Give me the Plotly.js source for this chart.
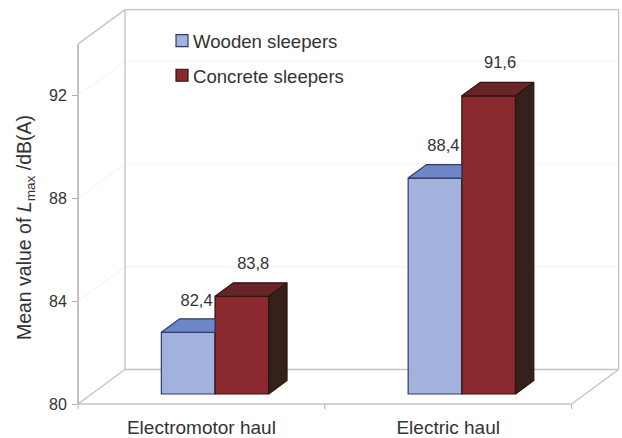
<!DOCTYPE html>
<html>
<head>
<meta charset="utf-8">
<script src="https://cdn.plot.ly/plotly-3.0.1.min.js"></script>
<style>
html,body{margin:0;padding:0;background:#fff}
#chart{width:622px;height:438px}
.legendsymbols{transform:translateX(9px)}
.g-ytitle{transform:translateY(20px)}
</style>
</head>
<body>
<div id="chart"></div>
<script>
// ---- data ----
const categories = ['Electromotor haul', 'Electric haul'];
const woodenValues = [82.4, 88.4];
const concreteValues = [83.8, 91.6];
const woodenLabels = ['82,4', '88,4'];
const concreteLabels = ['83,8', '91,6'];
const yTicks = [80, 84, 88, 92];

// ---- projection of the fake 3D box ----
const Y_BASE = 80, Y_TOP = 94;
const X_MAX = 2.188, Y_MAX = 95.29;
const DX = 0.1904, DY = 1.342;     // full depth of box in axis units
const D0 = 0.29, D1 = 0.68;        // bar front / back depth
const BW = 0.2175;                 // bar width
const centers = categories.map((_, i) => i + 0.5);
const sx = (x, d) => x + d * DX;
const sy = (v, d) => v + d * DY;
const px = x => x / X_MAX;
const py = y => (y - Y_BASE) / (Y_MAX - Y_BASE);

const COL = {
  wood: '#a3b2dc', woodTop: '#6f86c6', woodLine: '#2e3b68',
  conc: '#8b2a2e', concTop: '#6a2326', concSide: '#35211c', concLine: '#2a1414'
};

function poly(xs, ys, fill, line) {
  return {type: 'scatter', mode: 'lines', x: xs.concat(xs[0]), y: ys.concat(ys[0]),
    fill: 'toself', fillcolor: fill, line: {color: line, width: 1.2},
    showlegend: false, hoverinfo: 'skip', cliponaxis: false};
}

const traces = [
  {type: 'bar', name: 'Wooden sleepers', legendgroup: 'a',
   x: centers.map(c => sx(c, D0)), y: woodenValues.map(v => v - Y_BASE),
   base: woodenValues.map(() => sy(Y_BASE, D0)), width: BW, offset: -BW,
   marker: {color: COL.wood, line: {color: COL.woodLine, width: 1.2}}, hoverinfo: 'skip'},
  {type: 'bar', name: 'Concrete sleepers', legendgroup: 'b',
   x: centers.map(c => sx(c, D0)), y: concreteValues.map(v => v - Y_BASE),
   base: concreteValues.map(() => sy(Y_BASE, D0)), width: BW, offset: 0,
   marker: {color: COL.conc, line: {color: COL.concLine, width: 1.2}}, hoverinfo: 'skip'}
];

centers.forEach((c, i) => {
  // wooden top face: the part behind the concrete bar is hidden
  const w = woodenValues[i], k = concreteValues[i];
  const xl = c - BW, xr = c + BW;
  traces.push(poly(
    [sx(xl, D0), sx(xl, D1), sx(c, D0), sx(c, D0)],
    [sy(w, D0), sy(w, D1), sy(w, D1), sy(w, D0)], COL.woodTop, COL.woodLine));
  // concrete top and side faces
  traces.push(poly(
    [sx(c, D0), sx(c, D1), sx(xr, D1), sx(xr, D0)],
    [sy(k, D0), sy(k, D1), sy(k, D1), sy(k, D0)], COL.concTop, COL.concLine));
  traces.push(poly(
    [sx(xr, D0), sx(xr, D1), sx(xr, D1), sx(xr, D0)],
    [sy(k, D0), sy(k, D1), sy(Y_BASE, D1), sy(Y_BASE, D0)], COL.concSide, COL.concLine));
});

// value labels
const labelFont = {family: 'Liberation Sans, Arial, sans-serif', size: 16.5, color: '#333'};
traces.push({type: 'scatter', mode: 'text', showlegend: false, hoverinfo: 'skip', cliponaxis: false,
  x: centers.map(c => sx(c - BW / 2, D0) + 0.034), y: woodenValues.map(v => sy(v, D0) + 1.2),
  text: woodenLabels, textposition: 'middle center', textfont: labelFont});
traces.push({type: 'scatter', mode: 'text', showlegend: false, hoverinfo: 'skip', cliponaxis: false,
  x: centers.map(c => sx(c + BW / 2, D0) + 0.046), y: concreteValues.map(v => sy(v, D0) + 1.24),
  text: concreteLabels, textposition: 'middle center', textfont: labelFont});

// ---- box walls ----
const WALL = '#c4c4c4', GRID = '#f2f2f2';
const seg = (x0, y0, x1, y1, color, width) => ({type: 'line', xref: 'paper', yref: 'paper', layer: 'below',
  x0: px(x0), y0: py(y0), x1: px(x1), y1: py(y1), line: {color, width}});
const shapes = [];
yTicks.filter(t => t > Y_BASE).forEach(t => {
  shapes.push(seg(0, t, DX, sy(t, 1), GRID, 1));
  shapes.push(seg(DX, sy(t, 1), sx(2, 1), sy(t, 1), GRID, 1));
});
shapes.push(seg(DX, sy(Y_BASE, 1), DX, sy(Y_TOP, 1), WALL, 1.4));
shapes.push(seg(DX, sy(Y_TOP, 1), sx(2, 1), sy(Y_TOP, 1), WALL, 1.4));
shapes.push(seg(sx(2, 1), sy(Y_TOP, 1), sx(2, 1), sy(Y_BASE, 1), WALL, 1.4));
shapes.push(seg(DX, sy(Y_BASE, 1), sx(2, 1), sy(Y_BASE, 1), WALL, 1.4));
shapes.push(seg(0, Y_BASE, DX, sy(Y_BASE, 1), WALL, 1.4));
shapes.push(seg(2, Y_BASE, sx(2, 1), sy(Y_BASE, 1), WALL, 1.4));
shapes.push(seg(0, Y_TOP, DX, sy(Y_TOP, 1), WALL, 1.4));
shapes.push(seg(0, Y_BASE, 2, Y_BASE, WALL, 1.4));
shapes.push(seg(0, Y_BASE, 0, Y_TOP, '#a8a8a8', 1.4));
[0, 1, 2].forEach(x => shapes.push(seg(x, Y_BASE, x, Y_BASE - 0.2, '#b0b0b0', 1)));

const layout = {
  width: 622, height: 438,
  margin: {l: 78, r: 4, t: 11, b: 34, pad: 0},
  paper_bgcolor: '#fff', plot_bgcolor: 'rgba(0,0,0,0)',
  barmode: 'overlay',
  font: {family: 'Liberation Sans, Arial, sans-serif', color: '#333'},
  xaxis: {range: [0, X_MAX], tickmode: 'array', tickvals: centers, ticktext: categories,
    showgrid: false, zeroline: false, showline: false, tickangle: 0, automargin: false,
    ticks: 'outside', ticklen: 6, tickcolor: 'rgba(0,0,0,0)',
    tickfont: {size: 19, color: '#333'}},
  yaxis: {range: [Y_BASE, Y_MAX], tickmode: 'array', tickvals: yTicks, ticktext: yTicks.map(String),
    showgrid: false, zeroline: false, showline: false, automargin: false,
    ticks: 'outside', ticklen: 5, tickcolor: '#b0b0b0', tickwidth: 1, ticklabelstandoff: 2,
    tickfont: {size: 16, color: '#333'},
    title: {text: 'Mean value of <i>L</i><sub>max</sub> /dB(A)', font: {size: 19.5, color: '#333'}, standoff: 12}},
  legend: {x: 75 / 540, y: 0.972, xanchor: 'left', yanchor: 'top',
    font: {size: 18.6, color: '#333'}, bgcolor: 'rgba(0,0,0,0)', tracegroupgap: 7.5, traceorder: 'grouped'},
  shapes,
  showlegend: true
};
Plotly.newPlot('chart', traces, layout, {displayModeBar: false, staticPlot: true});
</script>
</body>
</html>
